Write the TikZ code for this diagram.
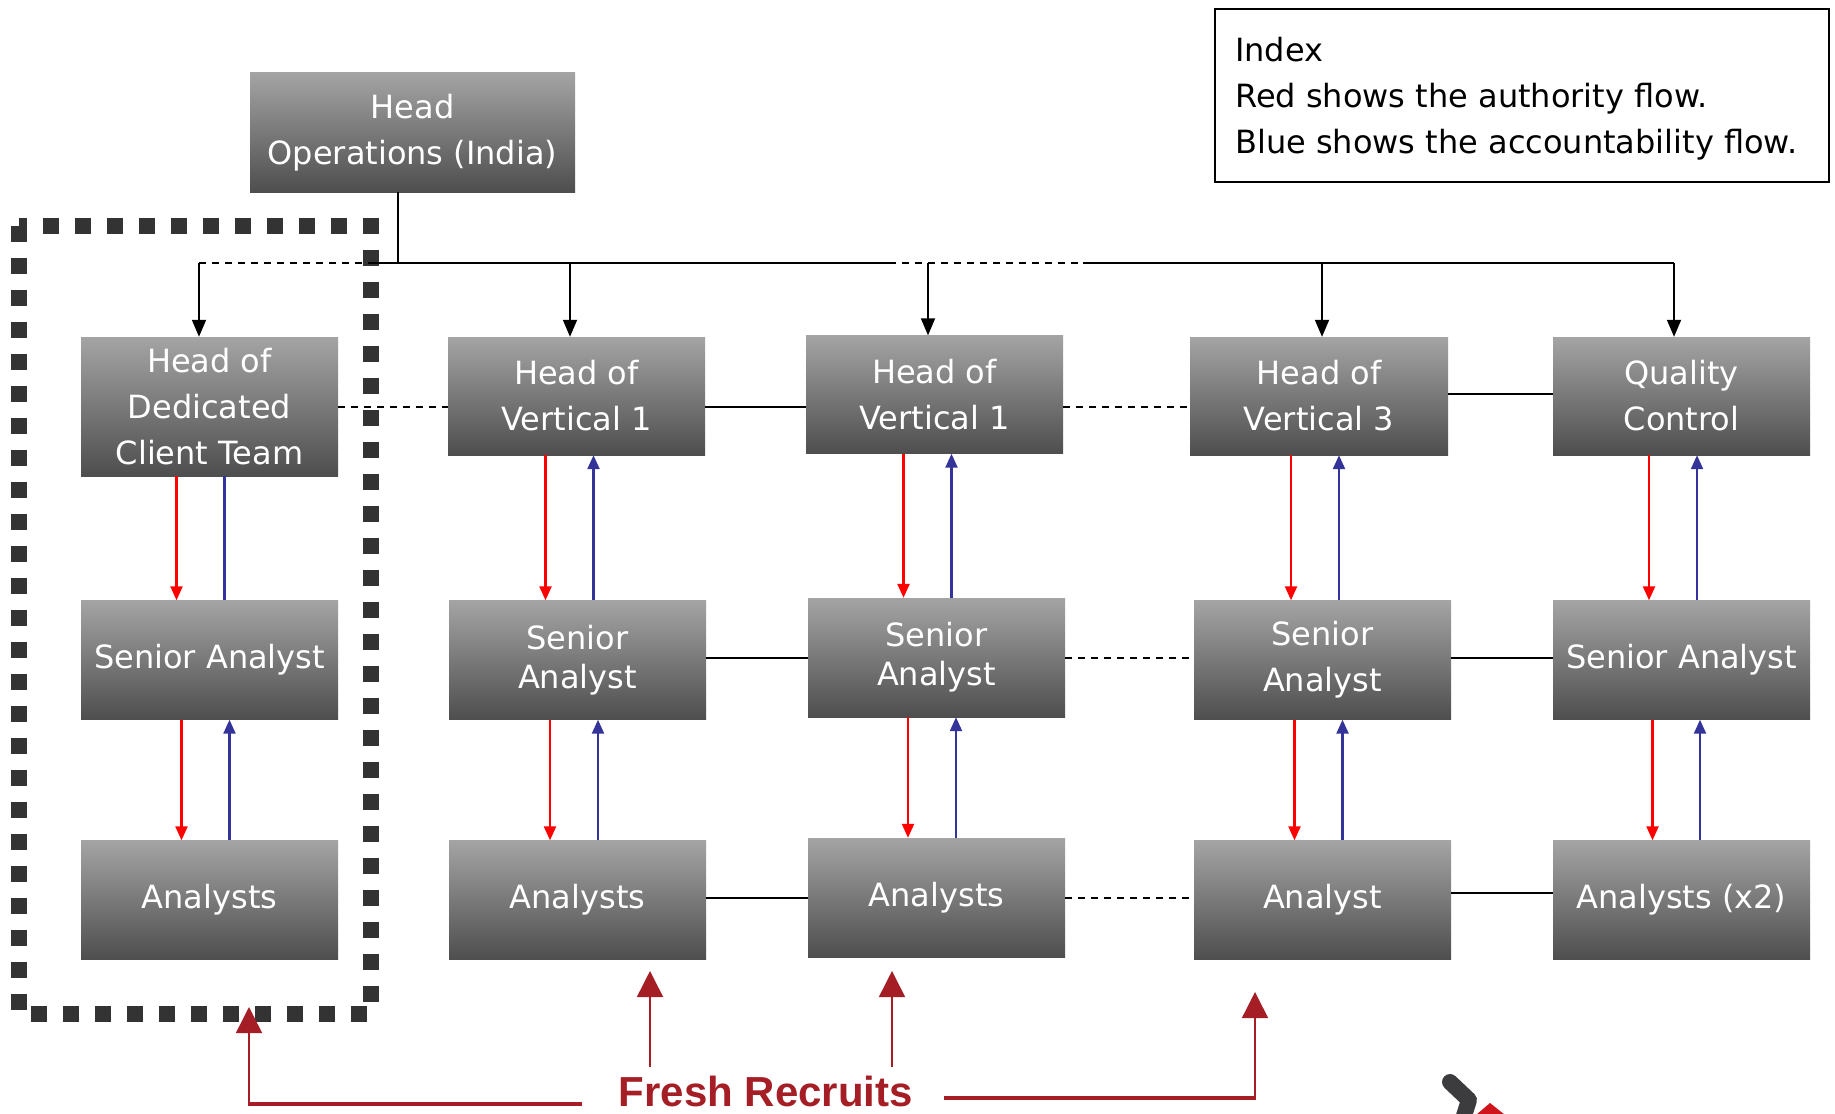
\documentclass[tikz,border=0pt]{standalone}
\usepackage{fontspec}
\setmainfont{DejaVu Sans}
\newfontfamily\frfont{Liberation Sans}
\usetikzlibrary{arrows.meta,calc}
\definecolor{boxtop}{HTML}{A4A4A4}
\definecolor{boxbot}{HTML}{4E4E4E}
\definecolor{authred}{HTML}{FF0000}
\definecolor{accblue}{HTML}{333399}
\definecolor{recred}{HTML}{A51E25}
\definecolor{dotgrey}{HTML}{333333}
\definecolor{logogrey}{HTML}{3C3C3E}
\definecolor{logored}{HTML}{D0141C}
\begin{document}
\begin{tikzpicture}[x=1pt,y=-1pt,
  orgbox/.style={shading=axis,top color=boxtop,bottom color=boxbot,text=white,align=center,
    inner sep=0pt,font=\fontsize{32}{46}\selectfont,minimum width=257pt,minimum height=119pt},
  tightbox/.style={orgbox,font=\fontsize{32}{39}\selectfont},
  hlink/.style={line width=1.8pt,black},
  dlink/.style={line width=1.8pt,black,dash pattern=on 7pt off 6pt},
  toparrow/.style={line width=1.8pt,black,-{Triangle[length=17pt,width=14pt]}},
  authar/.style={authred,line width=2.3pt,-{Triangle[length=14pt,width=12pt]}},
  accar/.style={accblue,line width=2.3pt,-{Triangle[length=14pt,width=12pt]}},
  accline/.style={accblue,line width=2.3pt},
  recar/.style={recred,line width=1.5pt,-{Triangle[length=26pt,width=26pt]}},
  recline/.style={recred,line width=3.5pt},
]
\useasboundingbox (0,0) rectangle (1835,1113);

% dotted grouping box
\draw[dotgrey,line width=16pt,dash pattern=on 16pt off 16pt] (19,226) rectangle (371,1014);

% nodes
\node[orgbox,minimum width=325pt] (ops) at (412.5,132.5) {Head\\Operations (India)};
\node[orgbox,minimum height=139pt] (ded) at (209.5,406.5) {Head of\\Dedicated\\Client Team};
\node[orgbox,minimum height=118pt] (hv1) at (576.5,396) {Head of\\Vertical 1};
\node[orgbox,minimum height=118pt] (hv2) at (934.5,394.5) {Head of\\Vertical 1};
\node[orgbox,minimum width=258pt,minimum height=118pt] (hv3) at (1319,396) {Head of\\Vertical 3};
\node[orgbox,minimum height=118pt] (qc) at (1681.5,396) {Quality\\Control};

\node[orgbox] (sa1) at (209.5,660) {Senior Analyst};
\node[tightbox] (sa2) at (577.5,660) {Senior\\Analyst};
\node[tightbox] (sa3) at (936.5,657.5) {Senior\\Analyst};
\node[orgbox] (sa4) at (1322.5,660) {Senior\\Analyst};
\node[orgbox] (sa5) at (1681.5,660) {Senior Analyst};

\node[orgbox] (a1) at (209.5,900) {Analysts};
\node[orgbox] (a2) at (577.5,900) {Analysts};
\node[orgbox] (a3) at (936.5,897.5) {Analysts};
\node[orgbox] (a4) at (1322.5,900) {Analyst};
\node[orgbox] (a5) at (1681.5,900) {Analysts (x2)};

% index
\node[draw,line width=1.8pt,anchor=north west,inner sep=0pt,
      minimum width=614pt,minimum height=173pt] (idx) at (1214,8) {};
\node[anchor=west,align=left,inner sep=0pt,font=\fontsize{32}{46}\selectfont]
  (idxtext) at ([xshift=21pt,yshift=-3pt]idx.west)
  {Index\\Red shows the authority flow.\\Blue shows the accountability flow.};

% top bus
\coordinate (bL) at (199,263);
\coordinate (bS) at (375,263);
\coordinate (b2) at (570,263);
\coordinate (bM1) at (889,263);
\coordinate (b3) at (928,263);
\coordinate (bM2) at (1083,263);
\coordinate (b4) at (1322,263);
\coordinate (bR) at (1674,263);
\draw[hlink] ([xshift=-14.5pt]ops.south) -- ([xshift=-14.5pt]ops.south |- bL) coordinate (busj);
\draw[dlink] (bL) -- (bS);
\draw[hlink] (bS) -- (bM1);
\draw[dlink] (bM1) -- (bM2);
\draw[hlink] (bM2) -- (bR);
\draw[toparrow] (bL) -- (bL |- ded.north);
\draw[toparrow] (b2) -- (b2 |- hv1.north);
\draw[toparrow] (b3) -- (b3 |- hv2.north);
\draw[toparrow] (b4) -- (b4 |- hv3.north);
\draw[toparrow] (bR) -- (bR |- qc.north);

% horizontal peer links
\draw[dlink] (ded.east |- 0,407) -- (hv1.west |- 0,407);
\draw[hlink] (hv1.east |- 0,407) -- (hv2.west |- 0,407);
\draw[dlink] (hv2.east |- 0,407) -- (hv3.west |- 0,407);
\draw[hlink] (hv3.east |- 0,394) -- (qc.west |- 0,394);
\draw[hlink] (sa2.east |- 0,658) -- (sa3.west |- 0,658);
\draw[dlink] (sa3.east |- 0,658) -- (sa4.west |- 0,658);
\draw[hlink] (sa4.east |- 0,658) -- (sa5.west |- 0,658);
\draw[hlink] (a2.east |- 0,898) -- (a3.west |- 0,898);
\draw[dlink] (a3.east |- 0,898) -- (a4.west |- 0,898);
\draw[hlink] (a4.east |- 0,893) -- (a5.west |- 0,893);

% authority (red) and accountability (blue)
\draw[authar] ([xshift=-33pt]ded.south) -- ([xshift=-33pt]ded.south |- sa1.north);
\draw[accline] ([xshift=15pt]sa1.north) -- ([xshift=15pt]sa1.north |- ded.south);
\draw[authar] ([xshift=-28pt]sa1.south) -- ([xshift=-28pt]sa1.south |- a1.north);
\draw[accar] ([xshift=20pt]a1.north) -- ([xshift=20pt]a1.north |- sa1.south);

\draw[authar] ([xshift=-31pt]hv1.south) -- ([xshift=-31pt]hv1.south |- sa2.north);
\draw[accar] ([xshift=16pt]sa2.north) -- ([xshift=16pt]sa2.north |- hv1.south);
\draw[authar] ([xshift=-27.5pt]sa2.south) -- ([xshift=-27.5pt]sa2.south |- a2.north);
\draw[accar] ([xshift=20.5pt]a2.north) -- ([xshift=20.5pt]a2.north |- sa2.south);

\draw[authar] ([xshift=-31pt]hv2.south) -- ([xshift=-31pt]hv2.south |- sa3.north);
\draw[accar] ([xshift=15pt]sa3.north) -- ([xshift=15pt]sa3.north |- hv2.south);
\draw[authar] ([xshift=-28.5pt]sa3.south) -- ([xshift=-28.5pt]sa3.south |- a3.north);
\draw[accar] ([xshift=19.5pt]a3.north) -- ([xshift=19.5pt]a3.north |- sa3.south);

\draw[authar] ([xshift=-28pt]hv3.south) -- ([xshift=-28pt]hv3.south |- sa4.north);
\draw[accar] ([xshift=16.5pt]sa4.north) -- ([xshift=16.5pt]sa4.north |- hv3.south);
\draw[authar] ([xshift=-28pt]sa4.south) -- ([xshift=-28pt]sa4.south |- a4.north);
\draw[accar] ([xshift=20pt]a4.north) -- ([xshift=20pt]a4.north |- sa4.south);

\draw[authar] ([xshift=-32.5pt]qc.south) -- ([xshift=-32.5pt]qc.south |- sa5.north);
\draw[accar] ([xshift=15.5pt]sa5.north) -- ([xshift=15.5pt]sa5.north |- qc.south);
\draw[authar] ([xshift=-29pt]sa5.south) -- ([xshift=-29pt]sa5.south |- a5.north);
\draw[accar] ([xshift=18.5pt]a5.north) -- ([xshift=18.5pt]a5.north |- sa5.south);

% fresh recruits
\node[font=\frfont\bfseries\fontsize{42}{42}\selectfont,text=recred,anchor=base,
      inner sep=0pt,text depth=0pt] (fr) at (766,1106) {Fresh Recruits};
\coordinate (frL) at (582,1104);
\coordinate (tL) at (249,1007);
\coordinate (u1s) at (650,1067);
\coordinate (u1t) at (650,971);
\coordinate (u2s) at (892,1067);
\coordinate (u2t) at (892,971);
\coordinate (frR) at (944,1098);
\coordinate (tR) at (1255,992);
\draw[recline] (frL) -- (frL -| tL);
\draw[recar] ([yshift=-1.5pt]frL -| tL) -- (tL);
\draw[recar] (u1s) -- (u1t);
\draw[recar] (u2s) -- (u2t);
\draw[recline,line width=4pt] (frR) -- (frR -| tR);
\draw[recar] ([yshift=-2pt]frR -| tR) -- (tR);

% logo fragment
\draw[logogrey,line width=16pt,line cap=round,line join=round] (1450,1082) -- (1469,1100) -- (1462,1122);
\fill[logored] (1476,1115) -- (1490,1103) -- (1505,1115) -- cycle;
\end{tikzpicture}
\end{document}
